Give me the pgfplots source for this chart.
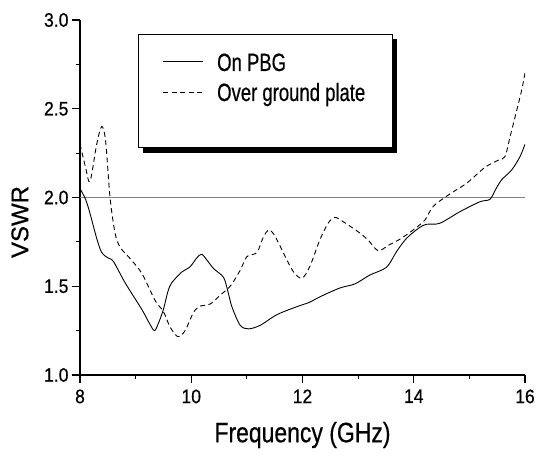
\documentclass[border=0pt]{standalone}
\usepackage{graphicx}
\usepackage{fontspec}
\setmainfont{Liberation Sans}[FakeBold=0.6]
\usepackage{pgfplots}
\pgfplotsset{compat=1.18}

\begin{document}
\begin{tikzpicture}
\path[use as bounding box] (0pt,0pt) rectangle (540pt,457pt);
\begin{axis}[
    at={(80pt,82pt)}, anchor=south west,
    scale only axis, width=445pt, height=355pt,
    xmin=8, xmax=16, ymin=1, ymax=3,
    axis x line*=bottom, axis y line*=left,
    x axis line style={-, line width=1.1pt},
    y axis line style={-, line width=1.1pt},
    xtick={8,10,12,14,16}, minor x tick num=1,
    ytick={1,1.5,2,2.5,3}, minor y tick num=1,
    tick align=outside, major tick length=8pt, minor tick length=4pt,
    major tick style={line width=1.1pt, black},
    minor tick style={line width=1.1pt, black},
    ticklabel style={font=\fontsize{19.5}{19.5}\selectfont},
    /pgf/number format/assume math mode=true,
    xticklabel style={yshift=-3pt},
    yticklabel style={/pgf/number format/fixed, /pgf/number format/fixed zerofill, /pgf/number format/precision=1},
    xticklabel={\scalebox{0.9}[1]{\pgfmathprintnumber{\tick}}},
    yticklabel={\scalebox{0.9}[1]{\pgfmathprintnumber{\tick}}},
    xlabel={\scalebox{0.82}[1]{Frequency (GHz)}},
    xlabel style={font=\fontsize{28}{28}\selectfont, at={(axis description cs:0.5,-0.169)}, anchor=center},
    ylabel={VSWR},
    ylabel style={font=\fontsize{24}{24}\selectfont, at={(axis description cs:-0.135,0.431)}, anchor=center},
]
% VSWR = 2 reference line
\addplot[gray, line width=1.2pt] coordinates {(8,2) (16,2)};

% On PBG
\addplot[black, line width=0.9pt, smooth, tension=0.5] coordinates {
(8.00,2.05)(8.10,1.99)(8.18,1.91)(8.30,1.77)(8.39,1.69)(8.50,1.66)(8.60,1.64)
(8.81,1.52)(9.11,1.37)(9.25,1.29)(9.34,1.25)(9.42,1.30)(9.50,1.37)(9.58,1.47)
(9.65,1.52)(9.83,1.58)(9.98,1.61)(10.10,1.66)(10.19,1.68)(10.30,1.64)(10.40,1.60)
(10.58,1.55)(10.66,1.47)(10.73,1.385)(10.88,1.28)(11.03,1.26)(11.24,1.28)
(11.54,1.34)(11.90,1.385)(12.13,1.41)(12.31,1.44)(12.67,1.49)(12.94,1.513)
(13.21,1.563)(13.51,1.607)(13.69,1.695)(13.87,1.77)(14.10,1.83)(14.23,1.849)
(14.47,1.855)(14.83,1.92)(15.19,1.976)(15.37,1.99)(15.48,2.05)(15.58,2.10)
(15.76,2.155)(15.91,2.23)(16.00,2.30)
};

% Over ground plate
\addplot[black, line width=0.9pt, smooth, tension=0.5, dash pattern=on 5pt off 3.5pt] coordinates {
(8.00,2.30)(8.10,2.17)(8.18,2.09)(8.30,2.30)(8.39,2.40)(8.46,2.32)(8.54,2.00)
(8.63,1.80)(8.72,1.72)(8.87,1.667)(9.11,1.573)(9.35,1.42)(9.50,1.357)(9.62,1.27)
(9.76,1.216)(9.89,1.25)(10.02,1.34)(10.13,1.385)(10.34,1.40)(10.52,1.45)
(10.70,1.50)(10.88,1.59)(11.00,1.667)(11.18,1.69)(11.30,1.78)(11.40,1.817)
(11.51,1.78)(11.69,1.667)(11.84,1.58)(11.99,1.545)(12.13,1.61)(12.31,1.76)
(12.46,1.855)(12.58,1.888)(12.73,1.864)(13.00,1.807)(13.18,1.76)(13.36,1.70)
(13.54,1.73)(13.75,1.765)(13.99,1.817)(14.20,1.873)(14.35,1.95)(14.65,2.02)
(14.95,2.08)(15.28,2.17)(15.52,2.21)(15.64,2.23)(15.73,2.34)(15.85,2.49)
(15.94,2.605)(16.00,2.70)
};
\end{axis}

% legend box with drop shadow
\fill[black] (143pt,418pt) rectangle (397pt,304pt);
\draw[fill=white, line width=0.8pt] (138pt,423pt) rectangle (392pt,310pt);
\draw[black, line width=0.9pt] (163pt,396pt) -- (203pt,396pt);
\node[anchor=base west, inner sep=0pt, font=\fontsize{25}{25}\selectfont] at (217pt,386pt) {\scalebox{0.74}[1]{On PBG}};
\draw[black, line width=0.9pt, dash pattern=on 5pt off 3.5pt] (163pt,365pt) -- (203pt,365pt);
\node[anchor=base west, inner sep=0pt, font=\fontsize{25}{25}\selectfont] at (217pt,356pt) {\scalebox{0.74}[1]{Over ground plate}};
\end{tikzpicture}
\end{document}
